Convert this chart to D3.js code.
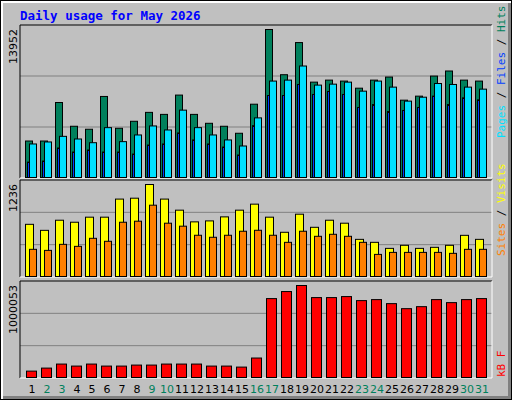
<!doctype html>
<html><head><meta charset="utf-8">
<script src="https://cdn.jsdelivr.net/npm/d3@7"></script>
<style>body{margin:0;background:#fff}</style>
</head><body>
<svg id="c" width="512" height="400"></svg>
<script>
var days = d3.range(1, 32);
var weekend = [2,3,9,10,16,17,23,24,30,31];
// values
var hits = [3440,3440,7070,4830,4550,7640,4640,5300,6140,5950,7770,5950,5110,4830,4170,6910,13952,9690,12720,8990,9180,9090,8420,9180,9470,7290,7670,9560,10040,9180,9090];
var pages = [3160,3350,3880,3630,3280,4700,3380,4010,4860,4480,6350,4700,4010,3540,2970,5620,9090,9180,10510,8710,8800,8990,8140,9090,8520,7200,7570,8860,8770,8520,8330];
var files = [1450,1550,2780,2400,2590,2400,2400,2210,3060,3160,4200,3540,3160,2870,2120,4890,7730,7730,8770,7830,8110,7830,6600,6880,6220,6320,6600,7670,6880,7510,7320];
var visits = [701,620,756,729,797,797,1040,1052,1236,1040,891,734,747,801,891,972,797,594,837,661,756,716,499,459,378,419,378,392,419,553,499];
var sites = [365,351,432,405,513,473,729,743,958,716,676,554,527,554,608,621,554,459,608,540,567,540,459,297,324,324,324,324,311,365,365];
var kbytes = [69340,102190,146000,124090,146000,124090,124090,135040,135040,146000,146000,146000,124090,124090,113140,211700,857710,934360,1000053,868660,868660,879610,835810,846760,802960,748220,770120,846760,813910,846760,857710];

var svg = d3.select("#c");
var mono = "'DejaVu Sans Mono', monospace";

// frame
svg.append("rect").attr("x",0).attr("y",0).attr("width",512).attr("height",400).attr("fill","#000");
svg.append("rect").attr("x",1).attr("y",1).attr("width",510).attr("height",398).attr("fill","#fff");
svg.append("rect").attr("x",3).attr("y",3).attr("width",508).attr("height",396).attr("fill","#808080");
svg.append("rect").attr("x",3).attr("y",3).attr("width",505).attr("height",393).attr("fill","#c0c0c0");

svg.append("text").attr("x",20).attr("y",20).text("Daily usage for May 2026")
  .attr("font-family",mono).attr("font-weight","bold").attr("font-size",12.5).attr("fill","#0000ff");

var x = d3.scaleBand().domain(days).range([20, 485]).paddingInner(0).paddingOuter(0);
var L = 20, R = 492;

function panel(y0, y1, max, label) {
  svg.append("rect").attr("x",L).attr("y",y0).attr("width",R-L).attr("height",y1-y0)
    .attr("fill","#c0c0c0");
  [1,2].forEach(function(k){
    var gy = y0 + (y1-y0)*k/3;
    svg.append("line").attr("x1",L).attr("x2",R).attr("y1",gy).attr("y2",gy).attr("stroke","#808080").attr("stroke-width",1);
  });
  svg.append("path").attr("d","M"+L+","+y1+"V"+y0+"H"+R).attr("stroke","#000").attr("fill","none");
  svg.append("path").attr("d","M"+L+","+y1+"H"+R+"V"+y0).attr("stroke","#fff").attr("fill","none");
  var y = d3.scaleLinear().domain([0,max]).range([y1-1, y0+4]);
  svg.append("text").attr("transform","translate(17,"+y(max)+") rotate(-90)")
    .attr("text-anchor","end").attr("font-family","'DejaVu Sans', sans-serif").attr("font-size",11)
    .text(label);
  return y;
}

function bars(data, y, off, w, fill) {
  svg.append("g").selectAll("rect").data(data).enter().append("rect")
    .attr("x", function(d,i){ return x(days[i]) + off + 0.5; })
    .attr("y", function(d){ return y(d) + 0.5; })
    .attr("width", w)
    .attr("height", function(d){ return y(0) - y(d); })
    .attr("fill", fill).attr("stroke","#000").attr("stroke-width",1);
}

var y1 = panel(25, 178, 13952, "13952");
bars(hits, y1, 5, 7, "#00805c");
bars(files, y1, 7, 2, "#0040ff");
bars(pages, y1, 9, 7, "#00e0ff");

var y2 = panel(180, 277, 1236, "1236");
bars(visits, y2, 5, 8, "#ffff00");
bars(sites, y2, 9, 7, "#ff8000");

var y3 = panel(281, 378, 1000053, "1000053");
bars(kbytes, y3, 6, 10, "#ff0000");

// right legends
function legend(yb, parts) {
  var t = svg.append("text").attr("transform","translate(505,"+yb+") rotate(-90)")
    .attr("font-family",mono).attr("font-size",11);
  parts.forEach(function(p){ t.append("tspan").attr("fill",p[1]).text(p[0]); });
}
legend(138, [["Pages","#00e0ff"],[" / ","#000"],["Files","#0040ff"],[" / ","#000"],["Hits","#00805c"]]);
legend(256, [["Sites","#ff8000"],[" / ","#000"],["Visits","#ffff00"]]);
legend(377, [["kB F","#ff0000"]]);

svg.append("g").selectAll("text").data(days).enter().append("text")
  .attr("x", function(d){ return x(d) + 12; })
  .attr("y", 393).attr("text-anchor","middle")
  .attr("font-family","'DejaVu Sans', sans-serif").attr("font-size",11)
  .attr("fill", function(d){ return weekend.indexOf(d) >= 0 ? "#00805c" : "#000"; })
  .text(function(d){ return d; });
</script>
</body></html>
